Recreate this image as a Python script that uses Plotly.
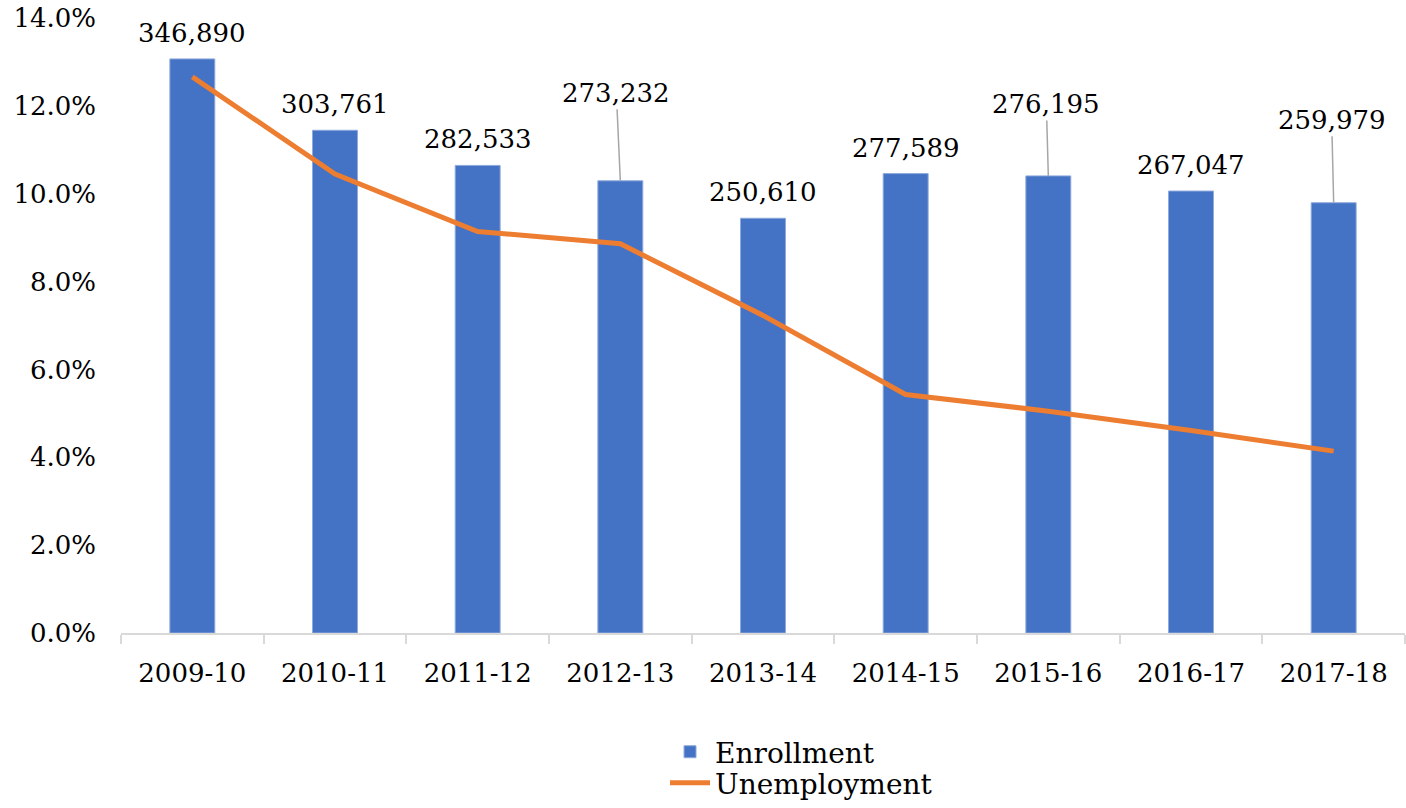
import plotly.graph_objects as go

years = ["2009-10", "2010-11", "2011-12", "2012-13", "2013-14",
         "2014-15", "2015-16", "2016-17", "2017-18"]
enrollment = [346890, 303761, 282533, 273232, 250610, 277589, 276195, 267047, 259979]
unemployment = [0.1266, 0.1045, 0.0914, 0.0886, 0.0723, 0.0543, 0.0505, 0.0461, 0.0414]

# label offsets (px) for enrollment data labels: (dx, dy, leader line)
label_offsets = [(0, 26, False), (0, 26, False), (0, 26, False), (-4, 88, True),
                 (0, 26, False), (0, 26, False), (-2, 72, True), (0, 26, False),
                 (-2, 83, True)]

FONT = "DejaVu Serif"
FS = 26
fig = go.Figure()
fig.add_trace(go.Bar(
    x=years, y=enrollment, name="Enrollment", yaxis="y", legend="legend",
    marker=dict(color="#4472C4", line=dict(color="#8FAADC", width=1)),
))
fig.add_trace(go.Scatter(
    x=years, y=unemployment, name="Unemployment", mode="lines", yaxis="y2",
    legend="legend2",
    line=dict(color="#ED7D31", width=5),
))

for yr, val, (dx, dy, lead) in zip(years, enrollment, label_offsets):
    text = f"{val:,}"
    if lead:
        fig.add_annotation(x=yr, y=val, xref="x", yref="y", text=text,
                           showarrow=True, arrowhead=0, arrowwidth=1.5,
                           arrowcolor="#A6A6A6", ax=dx, ay=-dy,
                           font=dict(family=FONT, size=FS, color="black"))
    else:
        fig.add_annotation(x=yr, y=val, xref="x", yref="y", text=text,
                           showarrow=False, yshift=dy,
                           font=dict(family=FONT, size=FS, color="black"))

leg_common = dict(orientation="v", xanchor="left", yanchor="middle",
                  font=dict(family=FONT, size=28), itemwidth=40,
                  bgcolor="rgba(0,0,0,0)")
fig.update_layout(
    width=1406, height=808,
    margin=dict(l=121, r=1, t=18, b=174),
    plot_bgcolor="white", paper_bgcolor="white",
    font=dict(family=FONT, size=FS, color="black"),
    bargap=0.685,
    showlegend=True,
    legend=dict(x=0.4237, y=-0.1916, **leg_common),
    legend2=dict(x=0.4237, y=-0.2419, **leg_common),
    xaxis=dict(type="category", showgrid=False, showline=True, linecolor="#D9D9D9",
               linewidth=2, ticks="outside", tickson="boundaries", ticklen=9,
               tickcolor="#D9D9D9", tickwidth=2, automargin=False,
               ticklabelstandoff=16,
               tickfont=dict(family=FONT, size=FS)),
    yaxis=dict(range=[0, 371600], visible=False, showgrid=False, automargin=False),
    yaxis2=dict(range=[0, 0.14], dtick=0.02, tickformat=".1%", showgrid=False,
                overlaying="y", side="left", automargin=False,
                showline=False, zeroline=False, ticks="", ticklabelstandoff=24,
                tickfont=dict(family=FONT, size=FS)),
)

fig.write_html("out.html",
               config={"displayModeBar": False},
               post_script="document.body.style.margin='0';"
                           "document.body.style.overflow='hidden';")
